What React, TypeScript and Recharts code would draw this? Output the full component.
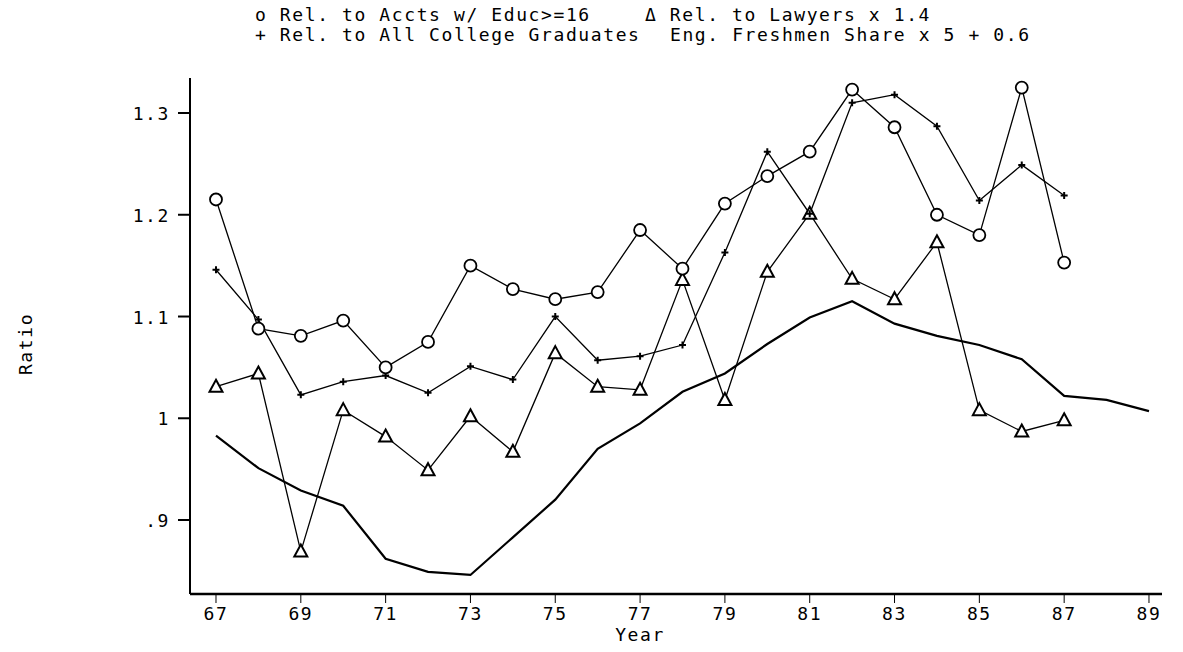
import React from "react";
import { LineChart, Line, XAxis, YAxis } from "recharts";

const YEARS = [67, 68, 69, 70, 71, 72, 73, 74, 75, 76, 77, 78, 79, 80, 81, 82, 83, 84, 85, 86, 87, 88, 89];

// Rel. to Accts w/ Educ>=16 (circles)
const ACCTS = [1.215, 1.088, 1.081, 1.096, 1.05, 1.075, 1.15, 1.127, 1.117, 1.124, 1.185, 1.147, 1.211, 1.238, 1.262, 1.323, 1.286, 1.2, 1.18, 1.325, 1.153];
// Rel. to All College Graduates (plus)
const COLLEGE = [1.146, 1.097, 1.023, 1.036, 1.042, 1.025, 1.051, 1.038, 1.1, 1.057, 1.061, 1.072, 1.163, 1.262, 1.201, 1.31, 1.318, 1.287, 1.214, 1.249, 1.219];
// Rel. to Lawyers x 1.4 (triangles)
const LAWYERS = [1.031, 1.044, 0.869, 1.008, 0.982, 0.949, 1.002, 0.967, 1.064, 1.031, 1.028, 1.136, 1.018, 1.144, 1.201, 1.137, 1.117, 1.173, 1.008, 0.987, 0.998];
// Eng. Freshmen Share x 5 + 0.6 (plain line)
const FRESH = [0.983, 0.951, 0.929, 0.914, 0.862, 0.849, 0.846, 0.883, 0.92, 0.97, 0.995, 1.026, 1.044, 1.073, 1.099, 1.115, 1.093, 1.081, 1.072, 1.058, 1.022, 1.018, 1.007];

const X_TICKS = [67, 69, 71, 73, 75, 77, 79, 81, 83, 85, 87, 89];
const Y_TICKS = [0.9, 1, 1.1, 1.2, 1.3];
const Y_LABELS: Record<string, string> = { "0.9": ".9", "1": "1", "1.1": "1.1", "1.2": "1.2", "1.3": "1.3" };

const data = YEARS.map((year, i) => ({
  year,
  accts: ACCTS[i] ?? null,
  college: COLLEGE[i] ?? null,
  lawyers: LAWYERS[i] ?? null,
  fresh: FRESH[i] ?? null,
}));

const FONT = "'DejaVu Sans Mono', 'Liberation Mono', monospace";
const textStyle = { fontFamily: FONT, fontSize: 18, letterSpacing: 1.6, fill: "#000" };

const CircleDot = (p: any) => {
  if (p.cx == null || p.value == null) return <g key={p.index} />;
  return <circle key={p.index} cx={p.cx} cy={p.cy} r={6} fill="#fff" stroke="#000" strokeWidth={1.8} />;
};

const PlusDot = (p: any) => {
  if (p.cx == null || p.value == null) return <g key={p.index} />;
  const s = 3.5;
  return (
    <path key={p.index} d={`M${p.cx - s},${p.cy}H${p.cx + s}M${p.cx},${p.cy - s}V${p.cy + s}`} stroke="#000" strokeWidth={2} />
  );
};

const TriDot = (p: any) => {
  if (p.cx == null || p.value == null) return <g key={p.index} />;
  const { cx, cy } = p;
  return (
    <path key={p.index} d={`M${cx},${cy - 7}L${cx + 6.5},${cy + 5}L${cx - 6.5},${cy + 5}Z`} fill="#fff" stroke="#000" strokeWidth={2} />
  );
};

const XTick = ({ x, y, payload }: any) => (
  <text x={x} y={y} dy={15} textAnchor="middle" style={textStyle}>
    {payload.value}
  </text>
);

const YTick = ({ x, y, payload }: any) => (
  <text x={x} y={y} dy={7} textAnchor="end" style={textStyle}>
    {Y_LABELS[String(payload.value)] ?? payload.value}
  </text>
);

export default function App() {
  return (
    <div style={{ position: "absolute", left: 0, top: 0, width: 1183, height: 652, background: "#fff" }}>
      <LineChart width={1183} height={652} data={data} margin={{ top: 78, right: 21, bottom: 18, left: 130 }}>
        <XAxis
          dataKey="year"
          type="number"
          domain={[66.387, 89.307]}
          ticks={X_TICKS}
          allowDataOverflow
          height={40}
          tickSize={9}
          tickMargin={2}
          tick={<XTick />}
          axisLine={{ stroke: "#000", strokeWidth: 2.5 }}
          tickLine={{ stroke: "#000", strokeWidth: 1 }}
        />
        <YAxis
          type="number"
          domain={[0.8273, 1.3344]}
          ticks={Y_TICKS}
          allowDataOverflow
          width={60}
          tickSize={12}
          tickMargin={8}
          tick={<YTick />}
          axisLine={{ stroke: "#000", strokeWidth: 2 }}
          tickLine={{ stroke: "#000", strokeWidth: 2 }}
        />
        <Line dataKey="fresh" stroke="#000" strokeWidth={2.2} dot={false} isAnimationActive={false} />
        <Line dataKey="lawyers" stroke="#000" strokeWidth={1.3} dot={TriDot} isAnimationActive={false} />
        <Line dataKey="college" stroke="#000" strokeWidth={1.3} dot={PlusDot} isAnimationActive={false} />
        <Line dataKey="accts" stroke="#000" strokeWidth={1.3} dot={CircleDot} isAnimationActive={false} />
      </LineChart>
      <svg width={1183} height={652} style={{ position: "absolute", left: 0, top: 0, pointerEvents: "none" }}>
        <text x={255} y={21} style={textStyle}>o Rel. to Accts w/ Educ&gt;=16</text>
        <text x={645} y={21} style={textStyle}>Δ Rel. to Lawyers x 1.4</text>
        <text x={255} y={41} style={textStyle}>+ Rel. to All College Graduates</text>
        <text x={670} y={41} style={textStyle}>Eng. Freshmen Share x 5 + 0.6</text>
        <text x={640} y={641} textAnchor="middle" style={textStyle}>Year</text>
        <text x={32} y={344} textAnchor="middle" transform="rotate(-90 32 344)" style={textStyle}>Ratio</text>
      </svg>
    </div>
  );
}
